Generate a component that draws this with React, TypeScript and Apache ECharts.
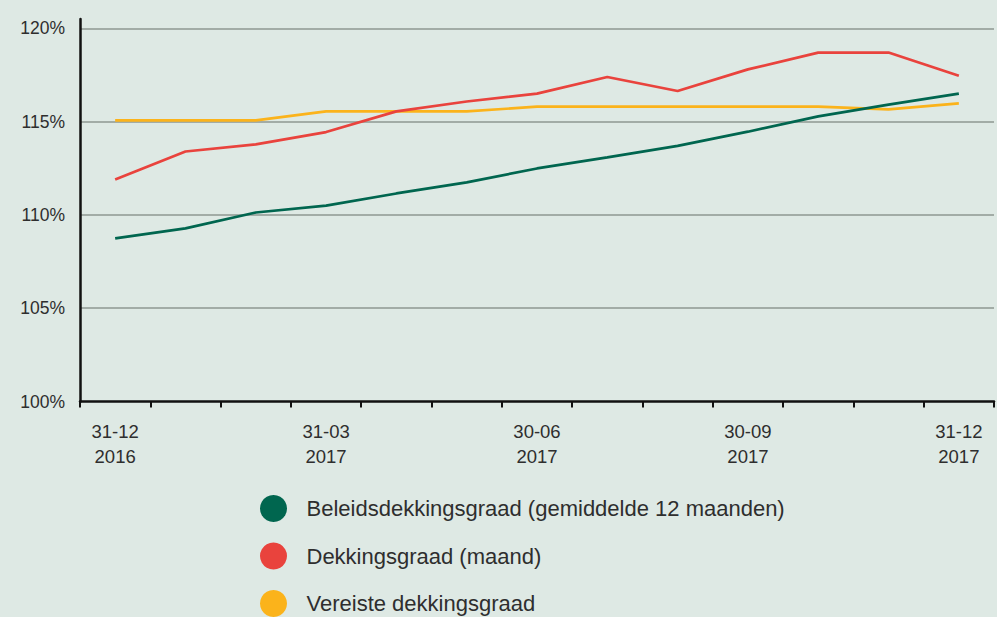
import React, { useEffect, useRef } from "react";
import * as echarts from "echarts";

const categories = [
  "31-12\n2016", "31-01\n2017", "28-02\n2017", "31-03\n2017", "30-04\n2017",
  "31-05\n2017", "30-06\n2017", "31-07\n2017", "31-08\n2017", "30-09\n2017",
  "31-10\n2017", "30-11\n2017", "31-12\n2017",
];
const beleidsdekkingsgraad = [108.74, 109.28, 110.13, 110.5, 111.15, 111.74, 112.49, 113.08, 113.7, 114.46, 115.28, 115.91, 116.5];
const dekkingsgraad = [111.9, 113.4, 113.78, 114.44, 115.55, 116.08, 116.5, 117.39, 116.64, 117.8, 118.7, 118.7, 117.46];
const vereiste = [115.07, 115.07, 115.07, 115.55, 115.55, 115.55, 115.8, 115.8, 115.8, 115.8, 115.8, 115.66, 115.98];
const seriesNames = [
  "Beleidsdekkingsgraad (gemiddelde 12 maanden)",
  "Dekkingsgraad (maand)",
  "Vereiste dekkingsgraad",
];
const colors = ["#00664f", "#e9433d", "#fbb31b"];

const FONT = "Liberation Sans";

export default function App() {
  const ref = useRef<HTMLDivElement>(null);
  useEffect(() => {
    if (!ref.current) return;
    const chart = echarts.init(ref.current, null, { renderer: "svg" });
    const data = [beleidsdekkingsgraad, dekkingsgraad, vereiste];
    chart.setOption({
      animation: false,
      backgroundColor: "#dee9e4",
      grid: { left: 80, right: 3, top: 19, bottom: 215.5, containLabel: false },
      legend: {
        orient: "vertical",
        left: 260,
        top: 495,
        height: 160,
        padding: 0,
        icon: "circle",
        itemWidth: 56,
        itemHeight: 27,
        itemGap: 20.5,
        data: seriesNames,
        textStyle: { fontFamily: FONT, fontSize: 22, color: "#2e2e2e" },
      },
      xAxis: {
        type: "category",
        data: categories,
        boundaryGap: true,
        axisLine: { lineStyle: { color: "#111", width: 2.5 } },
        axisTick: { show: true, interval: 0, length: 6, lineStyle: { color: "#111", width: 2 } },
        axisLabel: {
          interval: 2,
          margin: 17,
          fontFamily: FONT,
          fontSize: 18.5,
          lineHeight: 25,
          color: "#2e2e2e",
        },
        splitLine: { show: false },
      },
      yAxis: {
        type: "value",
        min: 100,
        max: 120.5,
        interval: 5,
        axisLine: { show: true, lineStyle: { color: "#111", width: 2.5 } },
        axisTick: { show: false },
        axisLabel: {
          showMaxLabel: false,
          margin: 15,
          fontFamily: FONT,
          fontSize: 17.5,
          color: "#2e2e2e",
          formatter: (v: number) => (v % 5 === 0 ? `${v}%` : ""),
        },
        splitLine: {
          show: true,
          showMaxLine: false,
          showMinLine: false,
          lineStyle: { color: "#8e9792", width: 1.5 },
        },
      },
      series: seriesNames.map((name, i) => ({
        name,
        type: "line",
        data: data[i],
        showSymbol: false,
        symbol: "circle",
        z: i === 2 ? 1 : i === 1 ? 2 : 3,
        itemStyle: { color: colors[i] },
        lineStyle: { color: colors[i], width: 2.7 },
      })),
    });
    return () => chart.dispose();
  }, []);
  return (
    <div
      ref={ref}
      style={{ position: "fixed", left: 0, top: 0, width: 997, height: 617 }}
    />
  );
}
